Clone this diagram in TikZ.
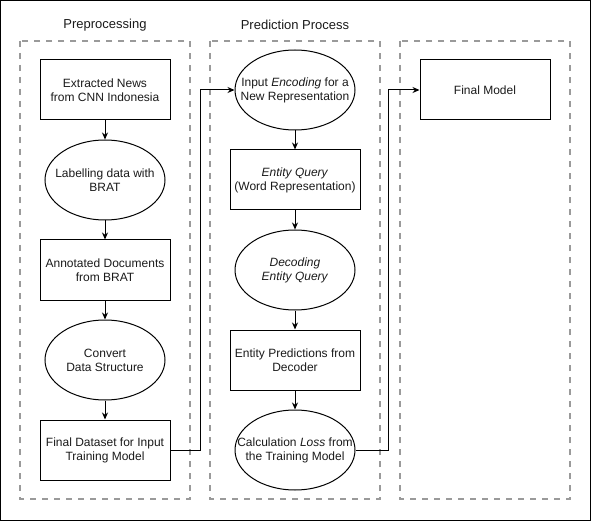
\documentclass[tikz,border=0pt]{standalone}
\usepackage{fontspec}
\setmainfont{Liberation Sans}
\usetikzlibrary{shapes.geometric,arrows.meta}
\definecolor{txt}{HTML}{1A1A1A}
\definecolor{dashgray}{HTML}{9A9A9A}
\begin{document}
\begin{tikzpicture}[x=1pt,y=-1pt,
  every node/.style={font=\fontsize{12}{14}\selectfont, text=txt, align=center},
  boxnode/.style={draw=black, line width=1pt, minimum width=130pt, minimum height=60pt, inner sep=0pt},
  ellnode/.style={draw=black, ellipse, line width=1pt, minimum width=120pt, minimum height=80pt, inner sep=0pt,
    label={center:#1}},
  column/.style={draw=dashgray, line width=2pt, dash pattern=on 6pt off 6pt},
  arr/.style={draw=black, line width=1pt, -{Stealth[length=7pt,width=6pt]}},
  title/.style={font=\fontsize{13}{15}\selectfont}
]
\useasboundingbox (0,0) rectangle (591,521);
\draw[black, line width=1pt] (0.5,0.5) rectangle (590.5,520.5);

% columns
\draw[column] (20,41) rectangle (190,499);
\draw[column] (210,41) rectangle (380,499);
\draw[column] (400,41) rectangle (570,499);

% titles
\node[title] (t1) at (105,25) {Preprocessing};
\node[title] (t2) at (295,25) {Prediction Process};

% column 1
\node[boxnode] (b1) at (105,90) {Extracted News\\from CNN Indonesia};
\node[ellnode={Labelling data with\\BRAT}] (e1) at (105,180) {};
\node[boxnode] (b2) at (105,270) {Annotated Documents\\from BRAT};
\node[ellnode={Convert\\Data Structure}] (e2) at (105,360) {};
\node[boxnode] (b3) at (105,450) {Final Dataset for Input\\Training Model};

% column 2
\node[ellnode={Input \textit{Encoding} for a\\New Representation}] (c1) at (295,90) {};
\node[boxnode] (c2) at (295,180) {\textit{Entity Query}\\(Word Representation)};
\node[ellnode={\textit{Decoding}\\\textit{Entity Query}}] (c3) at (295,270) {};
\node[boxnode] (c4) at (295,360) {Entity Predictions from\\Decoder};
\node[ellnode={Calculation \textit{Loss} from\\the Training Model}] (c5) at (295,450) {};

% column 3
\node[boxnode] (f1) at (485,90) {Final Model};

% connectors
\draw[arr] (b1) -- (e1);
\draw[arr] (e1) -- (b2);
\draw[arr] (b2) -- (e2);
\draw[arr] (e2) -- (b3);
\draw[arr] (c1) -- (c2);
\draw[arr] (c2) -- (c3);
\draw[arr] (c3) -- (c4);
\draw[arr] (c4) -- (c5);

\coordinate (j1) at (200,450);
\coordinate (j2) at (388,450);
\draw[arr] (b3.east) -- (j1) |- (c1.west);
\draw[arr] (c5.east) -- (j2) |- (f1.west);
\end{tikzpicture}
\end{document}
